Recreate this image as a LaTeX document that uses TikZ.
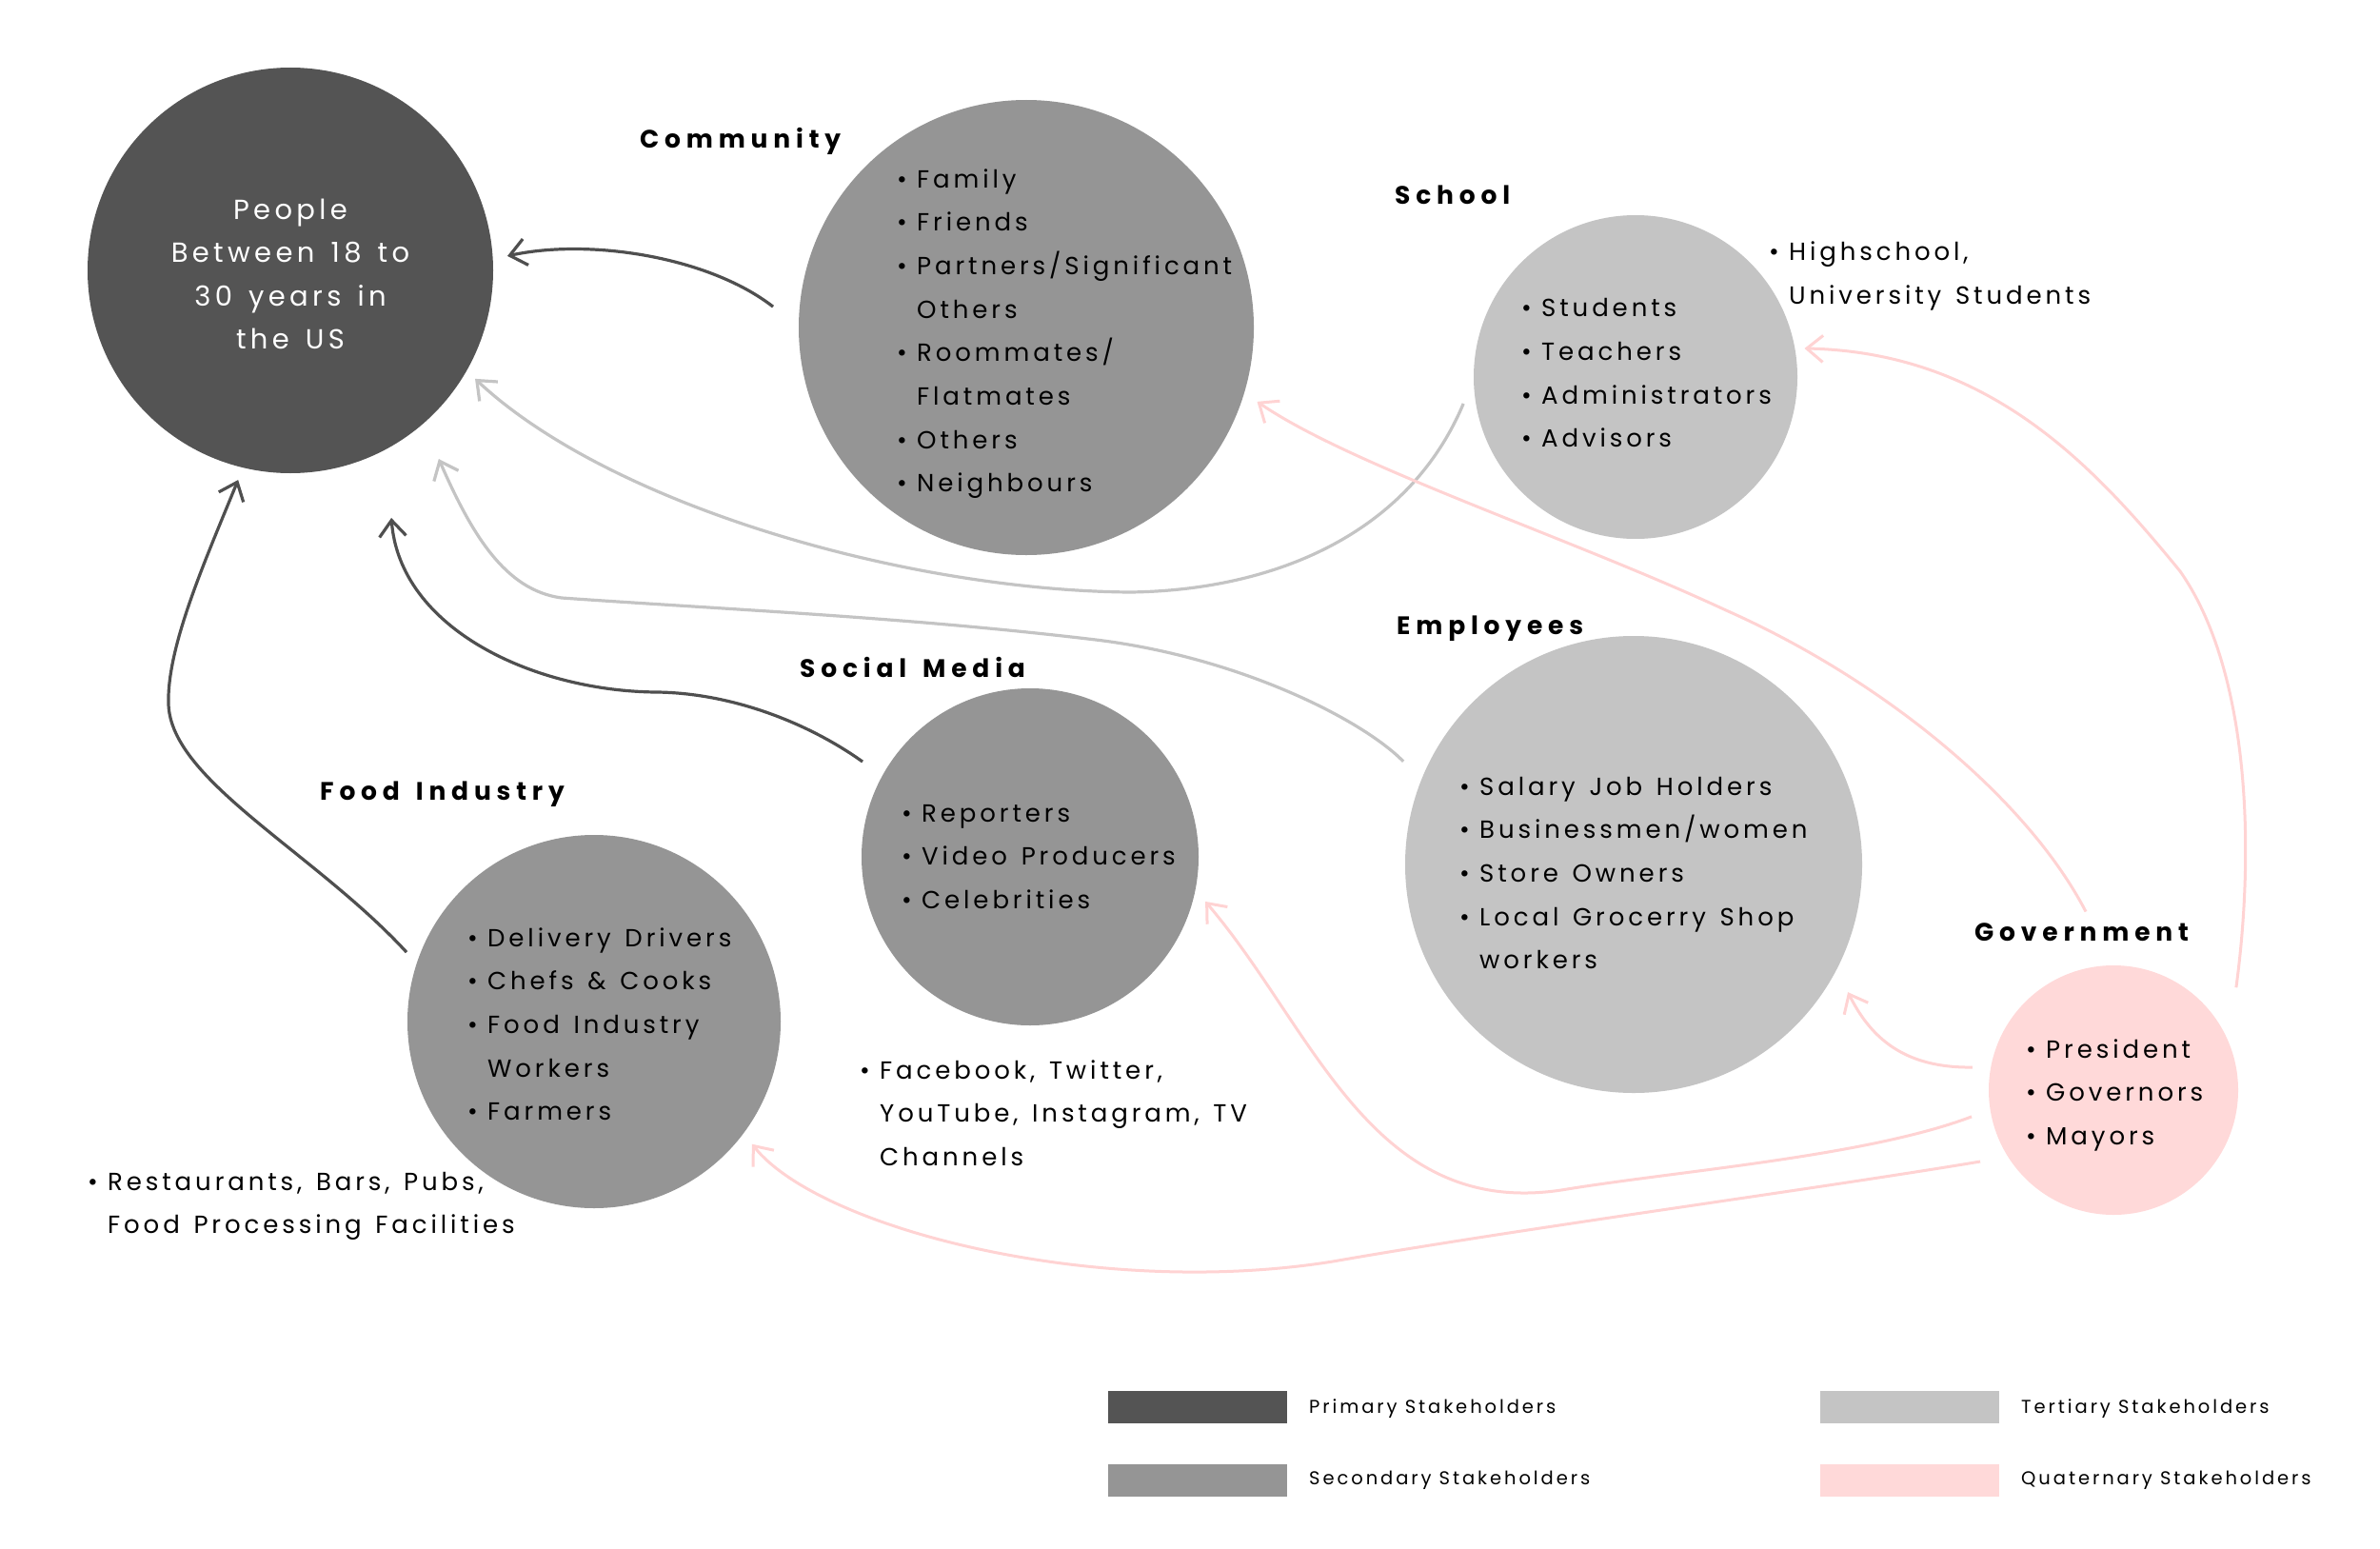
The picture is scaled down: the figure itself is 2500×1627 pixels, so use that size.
\documentclass[tikz,border=0pt]{standalone}
\usepackage{fontspec}
\setmainfont{Poppins}
\newfontfamily\itemfont{Poppins}[LetterSpace=15]
\newfontfamily\headfont{Poppins}[LetterSpace=22]
\newfontfamily\legfont{Poppins}[LetterSpace=15]
\usetikzlibrary{arrows.meta,calc}
\definecolor{cPrim}{HTML}{545454}
\definecolor{cSec}{HTML}{959595}
\definecolor{cTert}{HTML}{C4C4C4}
\definecolor{cQuat}{HTML}{FFD9D9}
\definecolor{cDark}{HTML}{4F4F4F}
\definecolor{cPink}{HTML}{FFD3D3}
\newcommand\bulitem{\makebox[21pt][l]{\textbullet}}
\newcommand\contline{\hspace*{21pt}}
\newcommand\xs{\hspace{6pt}}
\newcommand\xp{\hspace{7.5pt}}
\newcommand\xh{\hspace{5.5pt}}
\newcommand\itemsetup{\itemfont\fontsize{26}{45.7}\selectfont}
\newcommand\headsetup{\headfont\bfseries\fontsize{26.5}{30}\selectfont}
\newcommand\peoplesetup{\itemfont\fontsize{29}{45.2}\selectfont}
\begin{document}
\begin{tikzpicture}[x=1pt,y=1pt,
  stake/.style={circle, inner sep=0pt, outer sep=0pt, draw=none},
  itemlist/.style={anchor=base west, inner sep=0pt, text width=460pt, align=left,
    font=\itemsetup},
  heading/.style={anchor=base west, inner sep=0pt, font=\headsetup},
  tipstyle/.style={-{Straight Barb[length=17pt,width=28pt]}},
  darkconn/.style={draw=cDark, line width=3.2pt, tipstyle},
  greyconn/.style={draw=cTert, line width=3.2pt, tipstyle},
  pinkconn/.style={draw=cPink, line width=3pt, tipstyle},
  legbox/.style={minimum width=188pt, minimum height=34pt, inner sep=0pt, outer sep=0pt},
  leglabel/.style={anchor=base west, inner sep=0pt, font=\legfont\fontsize{19.5}{22}\selectfont}
]
\useasboundingbox (0,0) rectangle (2500,-1627);
\fill[white] (0,0) rectangle (2500,-1627);

% stakeholder circles
\node[stake, fill=cPrim, minimum size=426pt] (people) at (305,-284) {};
\node[stake, fill=cSec,  minimum size=478pt] (comm)   at (1078,-344) {};
\node[stake, fill=cTert, minimum size=340pt] (school) at (1718,-396) {};
\node[stake, fill=cTert, minimum size=480pt] (emp)    at (1716,-908) {};
\node[stake, fill=cSec,  minimum size=354pt] (social) at (1082,-900) {};
\node[stake, fill=cSec,  minimum size=392pt] (food)   at (624,-1073) {};
\node[stake, fill=cQuat, minimum size=262pt] (gov)    at (2220,-1145) {};

% connectors
\draw[darkconn] ($(comm)+(175.3:266.9)$) .. controls (745,-270) and (620,-250) .. ($(people)+(3.8:228.5)$);
\draw[darkconn] ($(social)+(150.4:202.4)$) .. controls (850,-760) and (770,-728) .. (690,-727)
  .. controls (560,-726) and (420,-660) .. ($(people)+(292.2:280.8)$);
\draw[darkconn] ($(food)+(159.7:210)$) .. controls (330,-895) and (180,-820) .. (177,-740)
  .. controls (175,-680) and (215,-590) .. ($(people)+(256:226.8)$);
\draw[greyconn] ($(school)+(188.8:183)$) .. controls (1480,-560) and (1340,-620) .. (1187,-622)
  .. controls (950,-620) and (640,-530) .. ($(people)+(329.6:225)$);
\draw[greyconn] ($(emp)+(155.9:265)$) .. controls (1430,-755) and (1300,-690) .. (1151,-672)
  .. controls (950,-648) and (760,-640) .. (590,-628)
  .. controls (530,-620) and (495,-560) .. ($(people)+(308.2:252)$);
\draw[pinkconn] ($(gov)+(39.9:168)$) .. controls (2370,-880) and (2360,-700) .. (2290,-600)
  .. controls (2200,-490) and (2090,-370) .. ($(school)+(9.6:180)$);
\draw[pinkconn] ($(gov)+(98.8:189.7)$) .. controls (2130,-840) and (1980,-715) .. (1813,-641)
  .. controls (1650,-565) and (1420,-490) .. ($(comm)+(342.2:254.7)$);
\draw[pinkconn] ($(gov)+(170.8:150)$) .. controls (2000,-1122) and (1965,-1090) .. ($(emp)+(329.2:262)$);
\draw[pinkconn] ($(gov)+(190.6:151.6)$) .. controls (1960,-1215) and (1760,-1230) .. (1640,-1250)
  .. controls (1440,-1280) and (1380,-1080) .. ($(social)+(345.7:190)$);
\draw[pinkconn] ($(gov)+(208.2:158.8)$) .. controls (1900,-1250) and (1600,-1290) .. (1400,-1325)
  .. controls (1150,-1365) and (860,-1290) .. ($(food)+(322.2:210)$);

% texts
\node[anchor=base, inner sep=0pt, text width=420pt, align=center, text=white,
  font=\peoplesetup] (ptxt) at (305,-230.7)
  {People\\Between \xp 18 \xp to\\30 \xp years \xp in\\the \xp US};

\node[heading] (hcomm) at (672,-156) {Community};
\node[heading] (hschool) at (1465,-214) {School};
\node[heading] (hemp) at (1467,-666) {Employees};
\node[heading] (hsocial) at (840,-711) {Social \xh Media};
\node[heading] (hfood) at (336,-840) {Food \xh Industry};
\node[heading] (hgov) at (2074,-988) {Government};

\node[itemlist] (lcomm) at (942,-197) {\bulitem Family\\\bulitem Friends\\\bulitem Partners/Significant\\\contline Others\\\bulitem Roommates/\\\contline Flatmates\\\bulitem Others\\\bulitem Neighbours};
\node[itemlist] (lschool) at (1598,-332.7) {\bulitem Students\\\bulitem Teachers\\\bulitem Administrators\\\bulitem Advisors};
\node[itemlist] (aschool) at (1858,-273.5) {\bulitem Highschool,\\\contline University \xs Students};
\node[itemlist] (lemp) at (1533,-835) {\bulitem Salary \xs Job \xs Holders\\\bulitem Businessmen/women\\\bulitem Store \xs Owners\\\bulitem Local \xs Grocerry \xs Shop\\\contline workers};
\node[itemlist] (lsocial) at (947,-863) {\bulitem Reporters\\\bulitem Video \xs Producers\\\bulitem Celebrities};
\node[itemlist] (asocial) at (903,-1133) {\bulitem Facebook, \xs Twitter,\\\contline YouTube, \xs Instagram, \xs TV\\\contline Channels};
\node[itemlist] (lfood) at (491,-994) {\bulitem Delivery \xs Drivers\\\bulitem Chefs \xs \& \xs Cooks\\\bulitem Food \xs Industry\\\contline Workers\\\bulitem Farmers};
\node[itemlist] (afood) at (92,-1250) {\bulitem Restaurants, \xs Bars, \xs Pubs,\\\contline Food \xs Processing \xs Facilities};
\node[itemlist] (lgov) at (2128,-1111) {\bulitem President\\\bulitem Governors\\\bulitem Mayors};

% legend
\node[legbox, fill=cPrim] (lgP) at (1258,-1478) {};
\node[leglabel] (lgPt) at (1375,-1484.5) {Primary Stakeholders};
\node[legbox, fill=cSec] (lgS) at (1258,-1554.5) {};
\node[leglabel] (lgSt) at (1375,-1559) {Secondary Stakeholders};
\node[legbox, fill=cTert] (lgT) at (2006,-1478) {};
\node[leglabel] (lgTt) at (2123,-1484.5) {Tertiary Stakeholders};
\node[legbox, fill=cQuat] (lgQ) at (2006,-1554.5) {};
\node[leglabel] (lgQt) at (2123,-1559) {Quaternary Stakeholders};
\end{tikzpicture}
\end{document}
